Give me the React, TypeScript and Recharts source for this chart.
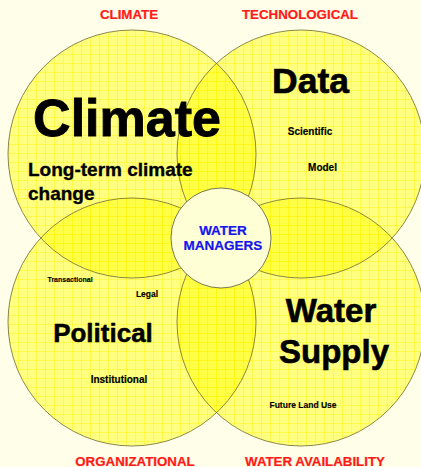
import { ScatterChart, Scatter, XAxis, YAxis } from 'recharts'

// four overlapping "drivers" circles and the hub in the middle
const circleNames = ['Climate', 'Data', 'Political', 'Water Supply']
const circleX = [132, 301, 132, 301]
const circleY = [154, 154, 322, 322]
const circleR = [124, 124, 124, 124]

const hubName = ['WATER MANAGERS']
const hubX = [221]
const hubY = [238]
const hubR = [50]

const cornerLabels = ['CLIMATE', 'TECHNOLOGICAL', 'ORGANIZATIONAL', 'WATER AVAILABILITY']

const circles = circleNames.map((name, i) => ({ name, x: circleX[i], y: circleY[i], r: circleR[i] }))
const hub = hubName.map((name, i) => ({ name, x: hubX[i], y: hubY[i], r: hubR[i] }))

const W = 421
const H = 467
const FONT = '"Liberation Sans", Arial, Helvetica, sans-serif'

if (typeof document !== 'undefined') {
  document.body.style.margin = '0'
  document.body.style.background = '#FFFFE9'
}

const FillCircle = (props: any) => (
  <circle cx={props.cx} cy={props.cy} r={props.payload.r} fill="url(#grid)" stroke="none" />
)

const OutlineCircle = (props: any) => (
  <circle cx={props.cx} cy={props.cy} r={props.payload.r} fill="none" stroke="#6E6A2E" strokeWidth={0.8} />
)

const HubCircle = (props: any) => (
  <circle cx={props.cx} cy={props.cy} r={props.payload.r} fill="#FFFFD6" stroke="#55553A" strokeWidth={0.8} />
)

// bold text, slightly thickened to match the heavy look of the original
const t = (txt: string, x: number, y: number, size: number, fill = '#000', anchor = 'middle') => (
  <text
    x={x}
    y={y}
    fontSize={size}
    fontWeight="bold"
    fontFamily={FONT}
    fill={fill}
    stroke={fill}
    strokeWidth={Math.min(0.9, size * 0.018)}
    textAnchor={anchor}
  >
    {txt}
  </text>
)

export default function App() {
  return (
    <div style={{ position: 'relative', width: W, height: H, background: '#FFFFE9' }}>
      <svg width={0} height={0} style={{ position: 'absolute' }}>
        <defs>
          <pattern id="grid" patternUnits="userSpaceOnUse" width={9} height={9}>
            <rect width={9} height={9} fill="#FFFF00" fillOpacity={0.45} />
            <path d="M0 0.5 H9 M0.5 0 V9" stroke="#FFF000" strokeOpacity={0.4} strokeWidth={1} />
          </pattern>
        </defs>
      </svg>
      <ScatterChart width={W} height={H} margin={{ top: 0, right: 0, bottom: 0, left: 0 }}>
        <XAxis type="number" dataKey="x" domain={[0, W]} hide />
        <YAxis type="number" dataKey="y" domain={[0, H]} reversed hide />
        <Scatter data={circles} shape={FillCircle} isAnimationActive={false} />
        <Scatter data={circles} shape={OutlineCircle} isAnimationActive={false} />
        <Scatter data={hub} shape={HubCircle} isAnimationActive={false} />
      </ScatterChart>
      <svg width={W} height={H} style={{ position: 'absolute', left: 0, top: 0, pointerEvents: 'none' }}>
        {t(cornerLabels[0], 129, 19, 13.3, '#FF1A1A')}
        {t(cornerLabels[1], 300, 19, 13.3, '#FF1A1A')}
        {t(cornerLabels[2], 135, 465.5, 13.3, '#FF1A1A')}
        {t(cornerLabels[3], 315, 465.5, 13.3, '#FF1A1A')}

        {t(circleNames[0], 127, 136, 52)}
        {t('Long-term climate', 28, 176, 19, '#000', 'start')}
        {t('change', 28, 200, 19, '#000', 'start')}

        {t(circleNames[1], 310.5, 93, 35.5)}
        {t('Scientific', 310, 134.5, 10)}
        {t('Model', 322.5, 170.5, 10)}

        {t(circleNames[2], 103, 342, 26)}
        {t('Transactional', 47.5, 281.5, 7, '#000', 'start')}
        {t('Legal', 147, 297, 8.5)}
        {t('Institutional', 119, 383, 10)}

        {t('Water', 331, 322, 33)}
        {t('Supply', 334, 363, 33)}
        {t('Future Land Use', 303, 408, 8.5)}

        {t('WATER', 223, 235, 13.5, '#1515EE')}
        {t('MANAGERS', 223, 250, 13.5, '#1515EE')}
      </svg>
    </div>
  )
}
